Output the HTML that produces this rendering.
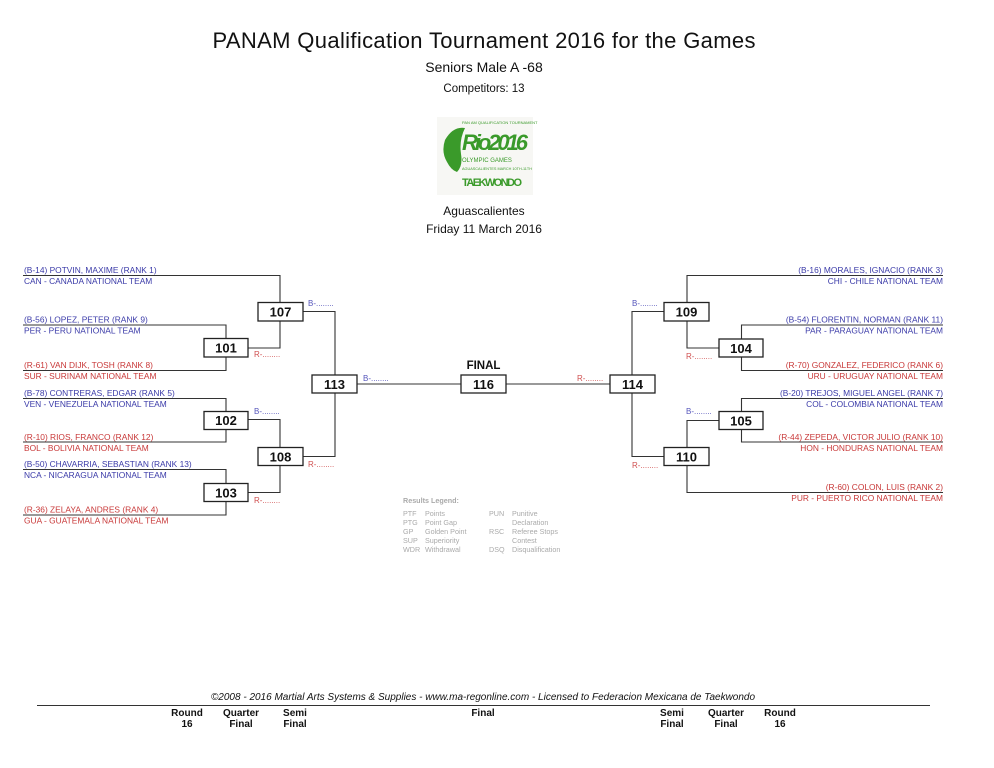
<!DOCTYPE html>
<html><head><meta charset="utf-8"><style>
html,body{margin:0;padding:0;background:#fff;}
svg{display:block;font-family:"Liberation Sans",Arial,sans-serif;}
.b{fill:#3a3aa8;font-size:8.4px}
.r{fill:#c83838;font-size:8.4px}
.bx{fill:#fff;stroke:#222;stroke-width:1.3}
.n{font-size:13px;font-weight:bold;fill:#111;text-anchor:middle}
.ln{stroke:#333;stroke-width:1.1;fill:none}
.bs{fill:#5555bb;font-size:8px}
.rs{fill:#d05050;font-size:8px}
.lg{fill:#aaa;font-size:7.2px}
.ft{font-size:10px;font-weight:bold;fill:#111;text-anchor:middle}
</style></head><body>
<svg width="994" height="768" viewBox="0 0 994 768">
<text x="484" y="48" font-size="22" text-anchor="middle" textLength="543" fill="#111">PANAM Qualification Tournament 2016 for the Games</text>
<text x="484" y="72" font-size="14" text-anchor="middle" fill="#111">Seniors Male A -68</text>
<text x="484" y="92" font-size="11.5" text-anchor="middle" fill="#111">Competitors: 13</text>
<!-- logo -->
<rect x="437" y="117" width="96" height="78" fill="#f7f7f4"/>
<path d="M445 140 q8 -14 20 -12 q-6 12 -4 26 q2 12 -4 18 q-6 -2 -10 -10 q-6 -10 -2 -22z" fill="#3a9a2a"/>
<text x="462" y="124" font-size="4" fill="#3a9a2a">PAN AM QUALIFICATION TOURNAMENT</text>
<text x="462" y="150" font-size="22" font-style="italic" font-weight="bold" fill="#3a9a2a" textLength="66">Rio2016</text>
<text x="462" y="162" font-size="6" fill="#3a9a2a">OLYMPIC GAMES</text>
<text x="462" y="170" font-size="3.8" fill="#3a9a2a">AGUASCALIENTES MARCH 10TH-11TH</text>
<text x="462" y="186" font-size="11" font-weight="bold" fill="#3a9a2a" textLength="60">TAEKWONDO</text>
<text x="484" y="215" font-size="12" text-anchor="middle" fill="#111">Aguascalientes</text>
<text x="484" y="233" font-size="12" text-anchor="middle" fill="#111">Friday 11 March 2016</text>

<path class="ln" d="M23 275.5H280V302 M23 325H226V338 M23 370.5H226V357 M248 348H280V321 M303 311.5H335V375 M23 398.5H226V412 M23 442H226V429 M248 419.5H280V448 M23 469.5H226V484 M23 515H226V502 M248 492.5H280V466 M303 456.5H335V393 M357 384H461 M506 384H612"/>
<path class="ln" d="M943 275.5H687V303 M687 321V348H719 M943 325H741.5V339 M943 370.5H741.5V357 M664 311.5H632V456.5H664 M943 398.5H741.5V412 M943 442H741.5V429 M719 420.5H687V448 M687 466V492.5H943"/>

<rect class="bx" x="258" y="302.5" width="45" height="18.5"/><text class="n" x="280.5" y="316.5">107</text>
<rect class="bx" x="204" y="338.5" width="44" height="18.5"/><text class="n" x="226" y="352.5">101</text>
<rect class="bx" x="312" y="375" width="45" height="18"/><text class="n" x="334.5" y="389">113</text>
<rect class="bx" x="204" y="411.5" width="44" height="18"/><text class="n" x="226" y="425">102</text>
<rect class="bx" x="258" y="447.5" width="45" height="18"/><text class="n" x="280.5" y="461.5">108</text>
<rect class="bx" x="204" y="483.5" width="44" height="18"/><text class="n" x="226" y="497.5">103</text>
<rect class="bx" x="461" y="375" width="45" height="18"/><text class="n" x="483.5" y="389">116</text>
<text x="483.5" y="369" font-size="11.5" font-weight="bold" text-anchor="middle" fill="#111">FINAL</text>
<rect class="bx" x="610" y="375" width="45" height="18"/><text class="n" x="632.5" y="389">114</text>
<rect class="bx" x="664" y="302.5" width="45" height="18.5"/><text class="n" x="686.5" y="316.5">109</text>
<rect class="bx" x="719" y="339" width="44" height="18"/><text class="n" x="741" y="353">104</text>
<rect class="bx" x="719" y="411.5" width="44" height="18"/><text class="n" x="741" y="425.5">105</text>
<rect class="bx" x="664" y="447.5" width="45" height="18"/><text class="n" x="686.5" y="461.5">110</text>

<text class="bs" x="308" y="306">B-........</text>
<text class="rs" x="254" y="357">R-........</text>
<text class="bs" x="254" y="414">B-........</text>
<text class="rs" x="308" y="467">R-........</text>
<text class="rs" x="254" y="503">R-........</text>
<text class="bs" x="363" y="381">B-........</text>
<text class="rs" x="577" y="381">R-........</text>
<text class="bs" x="632" y="306">B-........</text>
<text class="rs" x="686" y="359">R-........</text>
<text class="bs" x="686" y="414">B-........</text>
<text class="rs" x="632" y="468">R-........</text>

<text class="b" x="24" y="273">(B-14) POTVIN, MAXIME (RANK 1)</text>
<text class="b" x="24" y="284">CAN - CANADA NATIONAL TEAM</text>
<text class="b" x="24" y="322.5">(B-56) LOPEZ, PETER (RANK 9)</text>
<text class="b" x="24" y="333.5">PER - PERU NATIONAL TEAM</text>
<text class="r" x="24" y="368">(R-61) VAN DIJK, TOSH (RANK 8)</text>
<text class="r" x="24" y="379">SUR - SURINAM NATIONAL TEAM</text>
<text class="b" x="24" y="396">(B-78) CONTRERAS, EDGAR (RANK 5)</text>
<text class="b" x="24" y="407">VEN - VENEZUELA NATIONAL TEAM</text>
<text class="r" x="24" y="440">(R-10) RIOS, FRANCO (RANK 12)</text>
<text class="r" x="24" y="451">BOL - BOLIVIA NATIONAL TEAM</text>
<text class="b" x="24" y="467">(B-50) CHAVARRIA, SEBASTIAN (RANK 13)</text>
<text class="b" x="24" y="478">NCA - NICARAGUA NATIONAL TEAM</text>
<text class="r" x="24" y="512.5">(R-36) ZELAYA, ANDRES (RANK 4)</text>
<text class="r" x="24" y="523.5">GUA - GUATEMALA NATIONAL TEAM</text>

<g text-anchor="end">
<text class="b" x="943" y="273">(B-16) MORALES, IGNACIO (RANK 3)</text>
<text class="b" x="943" y="284">CHI - CHILE NATIONAL TEAM</text>
<text class="b" x="943" y="322.5">(B-54) FLORENTIN, NORMAN (RANK 11)</text>
<text class="b" x="943" y="333.5">PAR - PARAGUAY NATIONAL TEAM</text>
<text class="r" x="943" y="368">(R-70) GONZALEZ, FEDERICO (RANK 6)</text>
<text class="r" x="943" y="379">URU - URUGUAY NATIONAL TEAM</text>
<text class="b" x="943" y="396">(B-20) TREJOS, MIGUEL ANGEL (RANK 7)</text>
<text class="b" x="943" y="407">COL - COLOMBIA NATIONAL TEAM</text>
<text class="r" x="943" y="440">(R-44) ZEPEDA, VICTOR JULIO (RANK 10)</text>
<text class="r" x="943" y="451">HON - HONDURAS NATIONAL TEAM</text>
<text class="r" x="943" y="490">(R-60) COLON, LUIS (RANK 2)</text>
<text class="r" x="943" y="501">PUR - PUERTO RICO NATIONAL TEAM</text>
</g>

<text class="lg" x="403" y="503" font-weight="bold">Results Legend:</text>
<text class="lg" x="403" y="516">PTF</text><text class="lg" x="425" y="516">Points</text>
<text class="lg" x="403" y="525">PTG</text><text class="lg" x="425" y="525">Point Gap</text>
<text class="lg" x="403" y="534">GP</text><text class="lg" x="425" y="534">Golden Point</text>
<text class="lg" x="403" y="543">SUP</text><text class="lg" x="425" y="543">Superiority</text>
<text class="lg" x="403" y="552">WDR</text><text class="lg" x="425" y="552">Withdrawal</text>
<text class="lg" x="489" y="516">PUN</text><text class="lg" x="512" y="516">Punitive</text>
<text class="lg" x="512" y="525">Declaration</text>
<text class="lg" x="489" y="534">RSC</text><text class="lg" x="512" y="534">Referee Stops</text>
<text class="lg" x="512" y="543">Contest</text>
<text class="lg" x="489" y="552">DSQ</text><text class="lg" x="512" y="552">Disqualification</text>

<text x="483" y="700" font-size="10" font-style="italic" text-anchor="middle" fill="#111">©2008 - 2016 Martial Arts Systems &amp; Supplies - www.ma-regonline.com - Licensed to Federacion Mexicana de Taekwondo</text>
<line x1="37" y1="705.5" x2="930" y2="705.5" stroke="#333" stroke-width="1"/>
<text class="ft" x="187" y="716">Round</text><text class="ft" x="187" y="727">16</text>
<text class="ft" x="241" y="716">Quarter</text><text class="ft" x="241" y="727">Final</text>
<text class="ft" x="295" y="716">Semi</text><text class="ft" x="295" y="727">Final</text>
<text class="ft" x="483" y="716">Final</text>
<text class="ft" x="672" y="716">Semi</text><text class="ft" x="672" y="727">Final</text>
<text class="ft" x="726" y="716">Quarter</text><text class="ft" x="726" y="727">Final</text>
<text class="ft" x="780" y="716">Round</text><text class="ft" x="780" y="727">16</text>
</svg>
</body></html>
